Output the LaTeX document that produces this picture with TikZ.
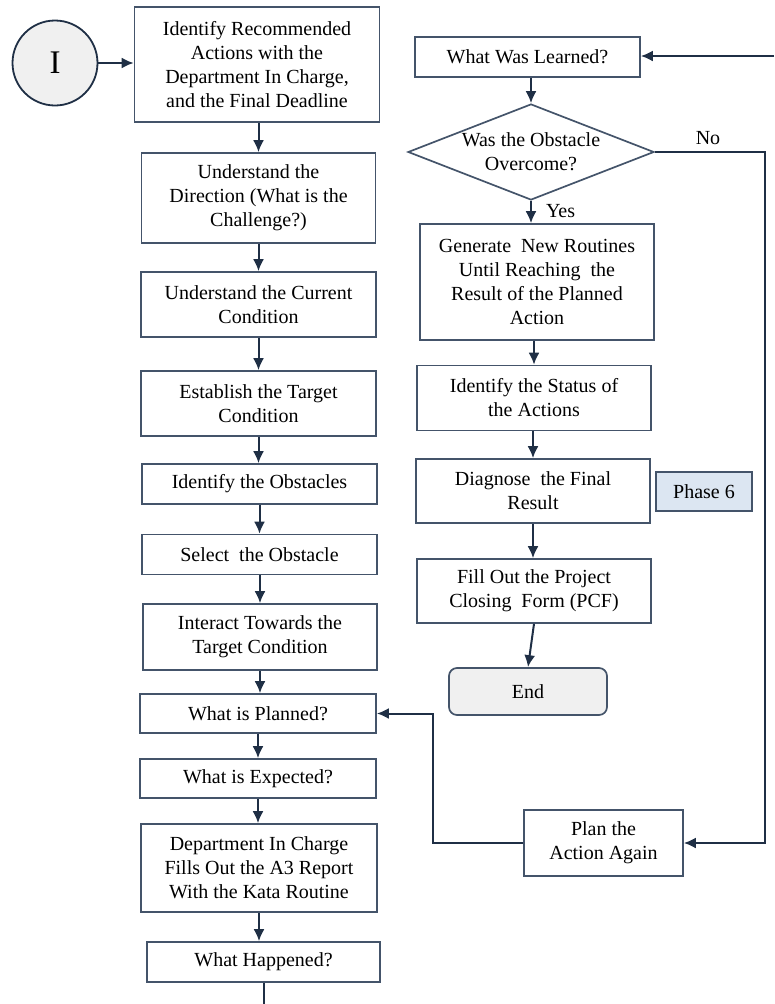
\documentclass[tikz,border=0pt]{standalone}
\usepackage{fontspec}
\setmainfont{Liberation Serif}
\usetikzlibrary{shapes.geometric,arrows.meta}
\definecolor{boxline}{HTML}{44546A}
\definecolor{arrline}{HTML}{1F2F45}
\definecolor{phasefill}{HTML}{DCE6F2}
\definecolor{endfill}{HTML}{F0F0F0}
\begin{document}
\begin{tikzpicture}[x=1pt,y=-1pt,
  font=\fontsize{20}{24}\selectfont,
  bx/.style={draw=boxline, line width=1.7pt, fill=white, rectangle, inner sep=0pt, align=center},
  conn/.style={draw=arrline, line width=2pt},
  arr/.style={conn, -{Latex[length=12pt,width=11pt]}},
  lbl/.style={inner sep=0pt}
]
\useasboundingbox (0,0) rectangle (774,1004);
% start circle
\node[circle, draw=arrline, line width=1.8pt, fill=endfill, minimum size=85pt, inner sep=0pt, font=\fontsize{33}{36}\selectfont] (st) at (55,63) {I};
% left column
\node[bx, minimum width=245pt, minimum height=115pt] (b1) at (257,64.5) {Identify Recommended\\Actions with the\\Department In Charge,\\and the Final Deadline};
\node[bx, minimum width=234pt, minimum height=90pt] (b2) at (258.5,198) {Understand the\\Direction (What is the\\Challenge?)};
\node[bx, minimum width=235pt, minimum height=65pt] (b3) at (258.5,304.5) {Understand the Current\\Condition};
\node[bx, minimum width=235pt, minimum height=65pt] (b4) at (258.5,403.5) {Establish the Target\\Condition};
\node[bx, minimum width=235pt, minimum height=40pt] (b5) at (259.5,484) {Identify the Obstacles};
\node[bx, minimum width=235pt, minimum height=40pt] (b6) at (259.5,554.5) {Select\ \ the Obstacle};
\node[bx, minimum width=234pt, minimum height=66pt] (b7) at (260,637) {Interact Towards the\\Target Condition};
\node[bx, minimum width=236pt, minimum height=39pt] (b8) at (258,713.5) {What is Planned?};
\node[bx, minimum width=236pt, minimum height=39pt] (b9) at (258,778.5) {What is Expected?};
\node[bx, minimum width=236pt, minimum height=88pt] (b10) at (259,868) {Department In Charge\\Fills Out the A3 Report\\With the Kata Routine};
\node[bx, minimum width=233pt, minimum height=40pt] (b11) at (263.5,962) {What Happened?};
\coordinate (bot) at (263.5,1004);
% right column
\node[bx, minimum width=225pt, minimum height=40pt] (r1) at (527.5,57) {What Was Learned?};
\node[diamond, draw=boxline, line width=1.7pt, fill=white, minimum width=246pt, minimum height=96pt, inner sep=0pt] (dm) at (531,152) {};
\node[lbl, align=center] at (dm) {Was the Obstacle\\Overcome?};
\node[bx, minimum width=234pt, minimum height=116pt] (r2) at (537,282) {Generate\ \ New Routines\\Until Reaching\ \ the\\Result of the Planned\\Action};
\node[bx, minimum width=234pt, minimum height=65pt] (r3) at (534,398) {Identify the Status of\\the Actions};
\node[bx, minimum width=234pt, minimum height=64pt] (r4) at (533,491) {Diagnose\ \ the Final\\Result};
\node[bx, fill=phasefill, minimum width=96pt, minimum height=39pt] (ph) at (704,491.5) {Phase 6};
\node[bx, minimum width=234pt, minimum height=64pt] (r5) at (534,591) {Fill Out the Project\\Closing\ \ Form (PCF)};
\node[bx, fill=endfill, rounded corners=8pt, minimum width=158pt, minimum height=47pt] (en) at (528,691.5) {End};
\node[bx, minimum width=159pt, minimum height=66pt] (pl) at (603.5,843) {Plan the\\Action Again};
\coordinate (ext) at (774,56);
% connectors left
\draw[arr] (st) -- (b1.west |- st);
\draw[arr] (b1.south -| b2) -- (b2.north);
\draw[arr] (b2.south) -- (b3.north -| b2);
\draw[arr] (b3.south) -- (b4.north);
\draw[arr] (b4.south) -- (b5.north -| b4);
\draw[arr] (b5.south) -- (b6.north);
\draw[arr] (b6.south -| b7) -- (b7.north);
\draw[arr] (b7.south) -- (b8.north -| b7);
\draw[arr] (b8.south) -- (b9.north);
\draw[arr] (b9.south) -- (b10.north -| b9);
\draw[arr] (b10.south) -- (b11.north -| b10);
\draw[conn] (b11.south) -- (bot);
% connectors right
\draw[arr] (ext) -- (r1.east |- ext);
\draw[arr] (r1.south -| dm) -- (dm.north);
\draw[arr] (dm.south) -- (r2.north -| dm) node[pos=0.45, right=14pt, lbl] {Yes};
\draw[arr] (dm.east) -- (765,152) -- (765,843) -- (pl.east);
\node[lbl] (no) at (708,138) {No};
\draw[arr] (r2.south -| r3) -- (r3.north);
\draw[arr] (r3.south -| r4) -- (r4.north);
\draw[arr] (r4.south) -- (r5.north -| r4);
\draw[arr] (r5.south) -- (en.north);
\draw[arr] (pl.west) -- (433,843) -- (433,713.5) -- (b8.east);
\end{tikzpicture}
\end{document}
